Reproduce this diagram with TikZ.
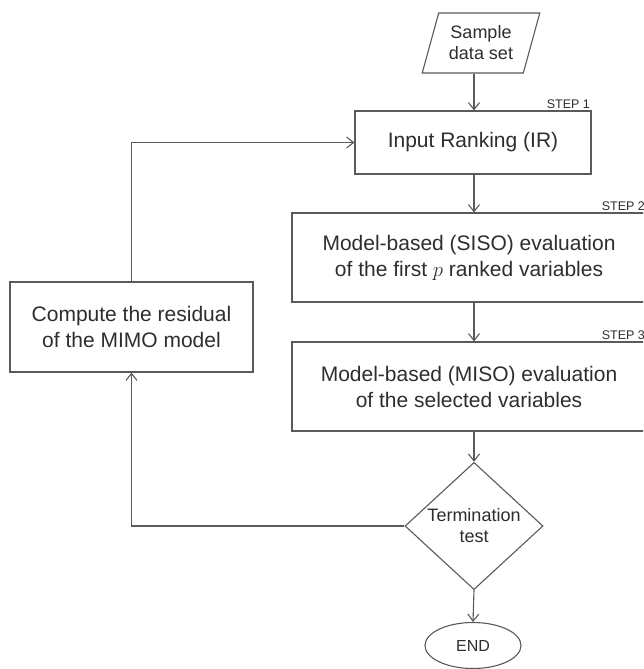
\documentclass[tikz,border=0pt]{standalone}
\usepackage{fontspec}
\setmainfont{Liberation Sans}
\usetikzlibrary{shapes.geometric,arrows.meta}
\definecolor{linec}{HTML}{5A5A5A}
\definecolor{textc}{HTML}{2E2E2E}
\tikzset{
  box/.style={draw=linec, line width=1.1pt, rectangle, inner sep=0pt, align=center, text=textc,
    font=\fontsize{21}{26}\selectfont},
  smallbox/.style={draw=linec, line width=1.1pt, inner sep=0pt, align=center, text=textc,
    font=\fontsize{18}{21}\selectfont},
  steplbl/.style={text=textc, font=\fontsize{12.5}{14}\selectfont, inner sep=1.5pt},
  arr/.style={draw=linec, line width=1.1pt, -{Straight Barb[length=7pt,width=11pt]}},
}
\begin{document}
\begin{tikzpicture}[x=1pt,y=-1pt]
\clip (0,0) rectangle (643,669);
\fill[white] (0,0) rectangle (643,669);
\node[smallbox, shape=trapezium, trapezium left angle=70, trapezium right angle=110,
  trapezium stretches=true, minimum width=118, minimum height=60] (sample) at (481,43) {Sample\\data set};
\node[box, minimum width=236, minimum height=63] (ir) at (473,142.5) {Input Ranking (IR)};
\node[box, minimum width=354, minimum height=89] (siso) at (469,257.5) {Model-based (SISO) evaluation\\of the first $p$ ranked variables};
\node[box, minimum width=354, minimum height=89] (miso) at (469,386.5) {Model-based (MISO) evaluation\\of the selected variables};
\node[box, minimum width=243, minimum height=90] (comp) at (131.5,327) {Compute the residual\\of the MIMO model};
\node[smallbox, shape=diamond, minimum width=138, minimum height=116] (term) at (474,526) {Termination\\test};
\node[smallbox, shape=ellipse, minimum width=96, minimum height=46, font=\fontsize{16}{18}\selectfont] (end) at (473,645.5) {END};
\node[steplbl, anchor=south east] at (ir.north east) {STEP 1};
\node[steplbl, anchor=south east] at (siso.north east) {STEP 2};
\node[steplbl, anchor=south east] at (miso.north east) {STEP 3};
\draw[arr] (sample.south -| term.north) -- (term.north |- ir.north);
\draw[arr] (term.north |- ir.south) -- (term.north |- siso.north);
\draw[arr] (term.north |- siso.south) -- (term.north |- miso.north);
\draw[arr] (term.north |- miso.south) -- (term.north);
\draw[arr] (term.south) -- (end.north);
\draw[arr] (term.west) -| (comp.south);
\draw[arr] (comp.north) |- (ir.west);
\end{tikzpicture}
\end{document}
